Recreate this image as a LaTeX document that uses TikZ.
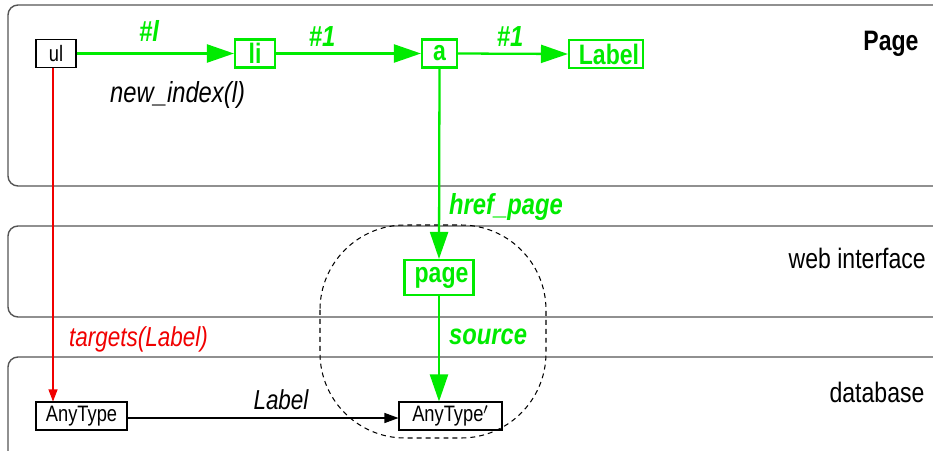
\documentclass[tikz,border=0pt]{standalone}
\usepackage{fontspec}
\setmainfont{Liberation Sans}[FakeStretch=0.82]
\usepackage{xcolor}
\usepackage{tikz}
\usetikzlibrary{arrows.meta}
\definecolor{link}{RGB}{0, 235, 0}
\definecolor{target}{RGB}{240, 0, 0}
\definecolor{layer}{RGB}{85, 85, 85}

\begin{document}
\begin{tikzpicture}[x=0.02cm, y=-0.02cm,
  layerbox/.style={draw=layer, line width=0.8pt, fill=white, rounded corners=0.2cm},
  typebox/.style={draw, line width=0.6pt, inner sep=0pt, minimum height=0.56cm, font=\fontsize{12.7}{14}\selectfont},
  linkbox/.style={draw=link, line width=1.2pt, text=link, inner sep=0pt, minimum height=0.56cm, font=\fontsize{16}{18}\selectfont\bfseries},
  linkarrow/.style={-{Triangle[length=0.54cm, width=0.36cm]}, draw=link, line width=1.3pt},
  linklabel/.style={text=link, font=\fontsize{16.5}{18}\selectfont\bfseries\itshape},
  layerlabel/.style={font=\fontsize{16}{18}\selectfont}]
  \clip (0,0) rectangle (933,450);
  % Layers
  \draw[layerbox] (8,5) rectangle (960,186);
  \draw[layerbox] (8,226) rectangle (960,317);
  \draw[layerbox] (8,357) rectangle (960,475);
  \node[layerlabel, font=\fontsize{16}{18}\selectfont\bfseries] (pagelayer) at (891,44) {Page};
  \node[layerlabel, anchor=east] (weblayer) at (932,258) {web interface};
  \node[layerlabel] (dblayer) at (877,392) {database};
  % Page nodes
  \node[typebox, minimum width=0.8cm] (ul) at (56,53.5) {ul};
  \node[linkbox, minimum width=0.8cm] (li) at (255,53.5) {li};
  \node[linkbox, minimum width=0.7cm] (a) at (439.5,53.5) {a};
  \node[linkbox, minimum width=1.48cm] (lbl) at (606,54) {\hspace{0.12cm}Label};
  % Interface and database nodes
  \node[linkbox, minimum width=1.38cm, minimum height=0.7cm] (page) at (439,277.5) {\hspace{0.1cm}page};
  \node[typebox, minimum width=1.82cm] (any) at (81.5,416) {AnyType};
  \node[typebox, minimum width=2.06cm] (anyp) at (450.5,416) {AnyType$'$};
  % Scope of the page
  \draw[dash pattern=on 2.8pt off 2.3pt, line width=0.6pt, rounded corners=1.7cm] (320,225) rectangle (546,438);
  % Links
  \draw[linkarrow] (ul.east) -- (li.west);
  \draw[linkarrow] (li.east) -- (a.west);
  \draw[linkarrow] (a.east) -- (lbl.west);
  \draw[linkarrow] (a.south) -- (page.north);
  \draw[linkarrow] (page.south) -- (page.south |- anyp.north);
  \draw[-{Triangle[length=0.24cm, width=0.18cm]}, target, line width=0.6pt] ([xshift=-0.06cm]ul.south) -- ([xshift=-0.06cm]ul.south |- any.north);
  \draw[-{Triangle[length=0.28cm, width=0.2cm]}, line width=0.6pt] ([yshift=-0.04cm]any.east) -- ([yshift=-0.04cm]anyp.west);
  % Labels
  \node[linklabel] (l1) at (149,31) {\#l};
  \node[linklabel] (l2) at (322,37) {\#1};
  \node[linklabel] (l3) at (510,37) {\#1};
  \node[font=\fontsize{16.5}{18}\selectfont\itshape, anchor=west] (newidx) at (104,95) {new\_index(l)};
  \node[linklabel, anchor=west] (href) at (443,207) {href\_page};
  \node[linklabel, anchor=west] (src) at (443,337) {source};
  \node[target, font=\fontsize{15.6}{18}\selectfont\itshape, anchor=west] (tgt) at (63,339) {targets(Label)};
  \node[font=\fontsize{15.6}{18}\selectfont\itshape] (lblname) at (281,400) {Label};
\end{tikzpicture}
\end{document}
